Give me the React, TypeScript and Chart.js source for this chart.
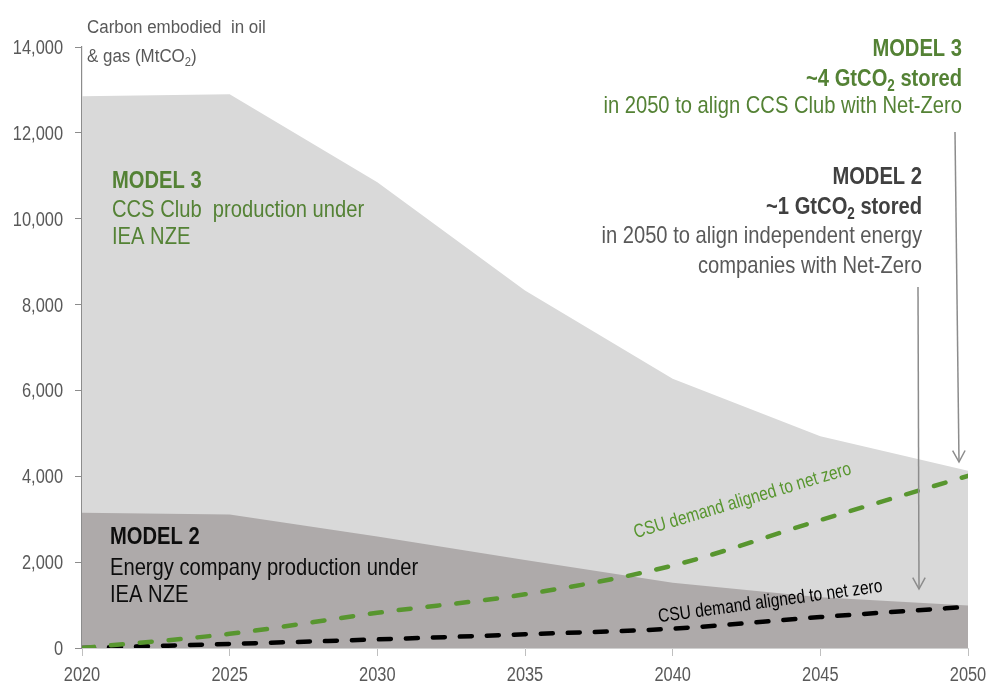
import React, { useEffect, useRef } from "react";
import { Chart, registerables } from "chart.js";

Chart.register(...registerables);

const years = [2020, 2025, 2030, 2035, 2040, 2045, 2050];
const ccsClubProduction = [12850, 12900, 10850, 8330, 6270, 4930, 4130];
const energyCompanyProduction = [3150, 3110, 2600, 2050, 1520, 1180, 990];
const ccsClubDemand = [0, 330, 820, 1250, 1920, 2980, 4010];
const energyCompanyDemand = [0, 95, 200, 320, 450, 720, 960];
const yMin = 0;
const yMax = 14000;
const yStep = 2000;
const xStep = 5;

const FONT = "'Liberation Sans', Arial, sans-serif";
const SX = 0.82; // horizontal squeeze to imitate a narrow face
const SX_BIG = 0.84;
const SX_TITLE = 0.94;
const GREEN = "#548235";
const GREEN_LINE = "#58962f";
const GREY_TEXT = "#595959";

type Seg = [string, boolean?];

function drawRich(
  ctx: CanvasRenderingContext2D,
  segs: Seg[],
  x: number,
  y: number,
  align: "left" | "right" | "center",
  size: number,
  bold: boolean,
  color: string,
  sx: number = SX
) {
  const fontFor = (sub?: boolean) =>
    `${bold ? "bold " : ""}${sub ? Math.round(size * 0.65) : size}px ${FONT}`;
  let total = 0;
  const widths: number[] = [];
  for (const [t, sub] of segs) {
    ctx.font = fontFor(sub);
    const w = ctx.measureText(t).width;
    widths.push(w);
    total += w;
  }
  ctx.save();
  ctx.translate(x, y);
  ctx.scale(sx, 1);
  let cx = align === "right" ? -total : align === "center" ? -total / 2 : 0;
  ctx.fillStyle = color;
  ctx.textAlign = "left";
  ctx.textBaseline = "alphabetic";
  segs.forEach(([t, sub], i) => {
    ctx.font = fontFor(sub);
    ctx.fillText(t, cx, sub ? size * 0.2 : 0);
    cx += widths[i];
  });
  ctx.restore();
}

function drawArrow(ctx: CanvasRenderingContext2D, x1: number, y1: number, x2: number, y2: number) {
  ctx.save();
  ctx.strokeStyle = "#8c8c8c";
  ctx.lineWidth = 1.5;
  ctx.beginPath();
  ctx.moveTo(x1, y1);
  ctx.lineTo(x2, y2);
  ctx.stroke();
  const ang = Math.atan2(y2 - y1, x2 - x1);
  const len = 13;
  const spread = 0.5;
  ctx.beginPath();
  ctx.moveTo(x2 - len * Math.cos(ang - spread), y2 - len * Math.sin(ang - spread));
  ctx.lineTo(x2, y2);
  ctx.lineTo(x2 - len * Math.cos(ang + spread), y2 - len * Math.sin(ang + spread));
  ctx.stroke();
  ctx.restore();
}

function drawRotated(
  ctx: CanvasRenderingContext2D,
  text: string,
  cx: number,
  cy: number,
  angleDeg: number,
  size: number,
  color: string
) {
  ctx.save();
  ctx.translate(cx, cy);
  ctx.rotate((angleDeg * Math.PI) / 180);
  drawRich(ctx, [[text]], 0, 0, "center", size, false, color);
  ctx.restore();
}

const annotationPlugin = {
  id: "annotations",
  afterDatasetsDraw(chart: any) {
    const ctx: CanvasRenderingContext2D = chart.ctx;
    ctx.save();

    // tick labels, placed by the chart's own scales
    const xs = chart.scales.x;
    const ys = chart.scales.y;
    xs.ticks.forEach((t: any) => {
      const px = xs.getPixelForValue(t.value);
      drawRich(ctx, [[String(t.value)]], px, 681, "center", 20, false, GREY_TEXT);
    });
    ys.ticks.forEach((t: any) => {
      const py = ys.getPixelForValue(t.value);
      drawRich(ctx, [[Number(t.value).toLocaleString("en-US")]], 63, py + 7, "right", 20, false, GREY_TEXT);
    });

    // axis title
    drawRich(ctx, [["Carbon embodied  in oil"]], 87, 33, "left", 18, false, GREY_TEXT, SX_TITLE);
    drawRich(ctx, [["& gas (MtCO"], ["2", true], [")"]], 87, 62, "left", 18, false, GREY_TEXT, SX_TITLE);

    const B = 24;
    // Model 3 left
    drawRich(ctx, [["MODEL 3"]], 112, 188, "left", B, true, GREEN, SX_BIG);
    drawRich(ctx, [["CCS Club  production under"]], 112, 217, "left", B, false, GREEN, SX_BIG);
    drawRich(ctx, [["IEA NZE"]], 112, 244, "left", B, false, GREEN, SX_BIG);

    // Model 2 left
    drawRich(ctx, [["MODEL 2"]], 110, 544, "left", B, true, "#0d0d0d", SX_BIG);
    drawRich(ctx, [["Energy company production under"]], 110, 575, "left", B, false, "#0d0d0d", SX_BIG);
    drawRich(ctx, [["IEA NZE"]], 110, 602, "left", B, false, "#0d0d0d", SX_BIG);

    // Model 3 right
    drawRich(ctx, [["MODEL 3"]], 962, 56, "right", B, true, GREEN, SX_BIG);
    drawRich(ctx, [["~4 GtCO"], ["2", true], [" stored"]], 962, 86, "right", B, true, GREEN, SX_BIG);
    drawRich(ctx, [["in 2050 to align CCS Club with Net-Zero"]], 962, 113, "right", B, false, GREEN, SX_BIG);

    // Model 2 right
    drawRich(ctx, [["MODEL 2"]], 922, 184, "right", B, true, "#404040", SX_BIG);
    drawRich(ctx, [["~1 GtCO"], ["2", true], [" stored"]], 922, 214, "right", B, true, "#404040", SX_BIG);
    drawRich(ctx, [["in 2050 to align independent energy"]], 922, 243, "right", B, false, GREY_TEXT, SX_BIG);
    drawRich(ctx, [["companies with Net-Zero"]], 922, 273, "right", B, false, GREY_TEXT, SX_BIG);

    // arrows
    drawArrow(ctx, 955, 132, 959, 462);
    drawArrow(ctx, 918, 287, 919, 589);

    // line labels
    drawRotated(ctx, "CSU demand aligned to net zero", 744, 506, -16.6, 19, GREEN_LINE);
    drawRotated(ctx, "CSU demand aligned to net zero", 771, 607, -7.8, 19, "#000000");
    ctx.restore();
  },
};

export default function App() {
  const ref = useRef<HTMLCanvasElement>(null);

  useEffect(() => {
    if (!ref.current) return;
    const pts = (vals: number[]) => years.map((x, i) => ({ x, y: vals[i] }));
    const chart = new Chart(ref.current, {
      type: "line",
      data: {
        datasets: [
          {
            label: "CCS Club demand",
            data: pts(ccsClubDemand),
            borderColor: GREEN_LINE,
            borderWidth: 4.5,
            borderDash: [12, 17],
            borderCapStyle: "round",
            pointRadius: 0,
            fill: false,
            cubicInterpolationMode: "monotone",
            order: 0,
          },
          {
            label: "Energy company demand",
            data: pts(energyCompanyDemand),
            borderColor: "#000000",
            borderWidth: 4.5,
            borderDash: [12, 15],
            borderCapStyle: "round",
            pointRadius: 0,
            fill: false,
            cubicInterpolationMode: "monotone",
            order: 1,
          },
          {
            label: "Energy company production",
            data: pts(energyCompanyProduction),
            borderColor: "rgba(0,0,0,0)",
            borderWidth: 0,
            backgroundColor: "#aeaaaa",
            pointRadius: 0,
            fill: "origin",
            tension: 0,
            order: 2,
          },
          {
            label: "CCS Club production",
            data: pts(ccsClubProduction),
            borderColor: "rgba(0,0,0,0)",
            borderWidth: 0,
            backgroundColor: "#d9d9d9",
            pointRadius: 0,
            fill: "origin",
            tension: 0,
            order: 3,
          },
        ],
      },
      options: {
        animation: false,
        responsive: true,
        maintainAspectRatio: false,
        layout: { padding: { top: 47, right: 21, left: 0, bottom: 0 } },
        plugins: {
          legend: { display: false },
          tooltip: { enabled: false },
        },
        scales: {
          x: {
            type: "linear",
            min: years[0],
            max: years[years.length - 1],
            afterFit: (s: any) => {
              s.height = 34;
            },
            grid: {
              drawOnChartArea: false,
              drawTicks: true,
              tickLength: 8,
              color: "#bfbfbf",
            },
            border: { color: "#d0d0d0", width: 1 },
            ticks: {
              stepSize: xStep,
              padding: 2,
              color: "rgba(0,0,0,0)",
              font: { family: FONT, size: 16 },
              maxRotation: 0,
              callback: (v: any) => String(v),
            },
          },
          y: {
            type: "linear",
            min: yMin,
            max: yMax,
            afterFit: (s: any) => {
              s.width = 82;
            },
            grid: {
              drawOnChartArea: false,
              drawTicks: true,
              tickLength: 7,
              color: "#8c8c8c",
            },
            border: { color: "#8c8c8c", width: 1.2 },
            ticks: {
              stepSize: yStep,
              padding: 12,
              color: "rgba(0,0,0,0)",
              font: { family: FONT, size: 16 },
              callback: (v: any) => Number(v).toLocaleString("en-US"),
            },
          },
        },
      },
      plugins: [annotationPlugin],
    });
    return () => chart.destroy();
  }, []);

  return (
    <div style={{ position: "fixed", left: 0, top: 0, width: 989, height: 682, background: "#ffffff" }}>
      <canvas ref={ref} />
    </div>
  );
}
